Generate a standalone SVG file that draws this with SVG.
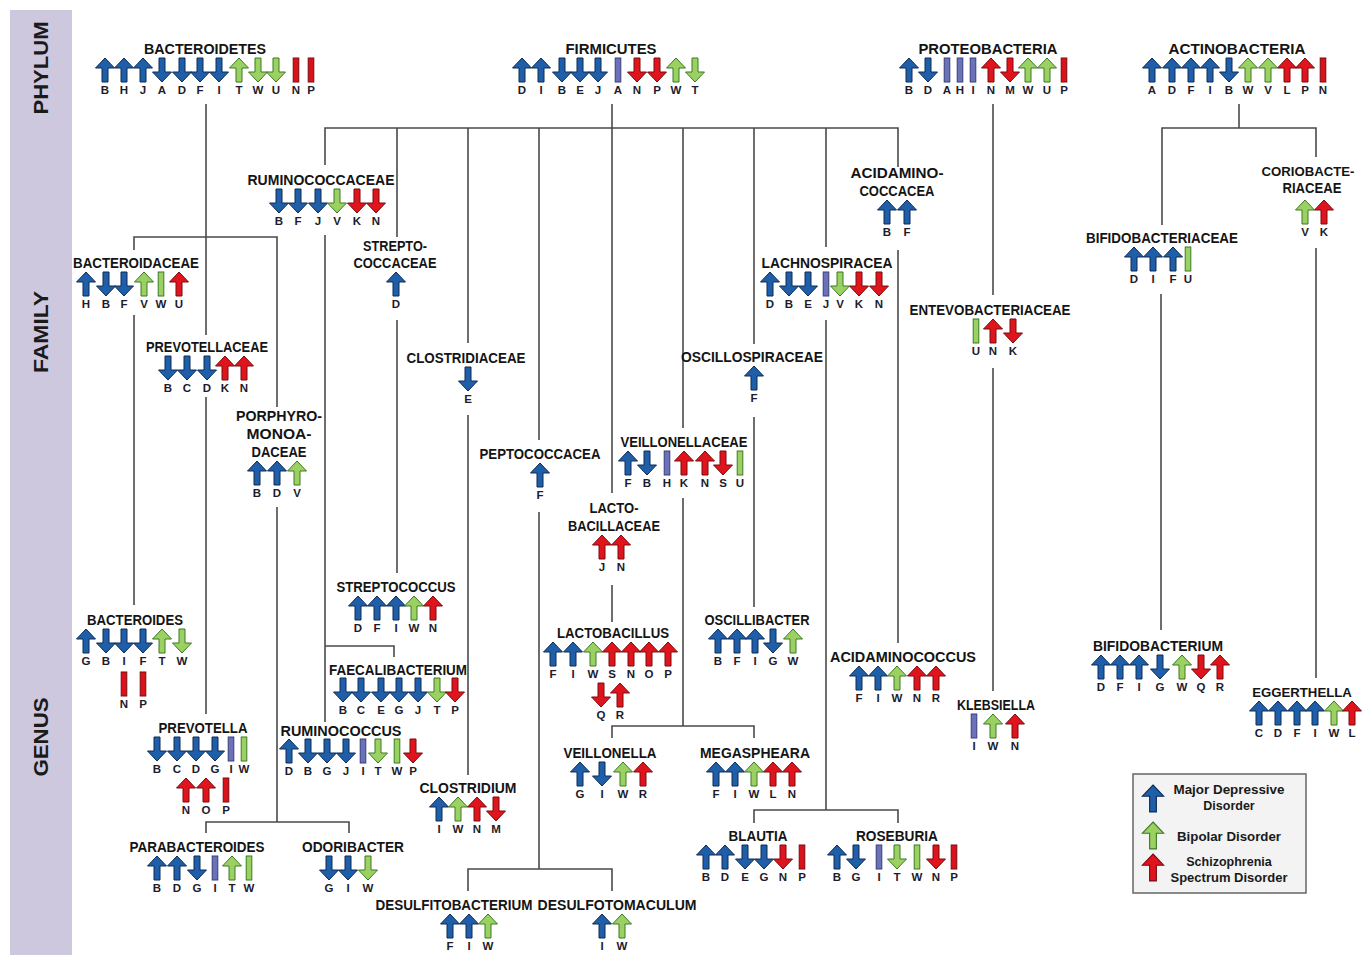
<svg xmlns="http://www.w3.org/2000/svg" width="1363" height="955" viewBox="0 0 1363 955">
<style>
.t{font-family:"Liberation Sans",Arial,sans-serif;font-weight:bold;font-size:14.5px;fill:#141414;text-anchor:middle}
.ts{font-size:13.2px}
.l{font-family:"Liberation Sans",Arial,sans-serif;font-weight:bold;font-size:11.5px;fill:#1c1c2c;text-anchor:middle}
.side{font-family:"Liberation Sans",Arial,sans-serif;font-weight:bold;font-size:21px;fill:#1a1a1a;text-anchor:middle}
.lg{font-family:"Liberation Sans",Arial,sans-serif;font-weight:bold;font-size:12.5px;fill:#1a1a1a;text-anchor:middle}
.cb{fill:#1f5ea8;stroke:#0d2b55;stroke-width:1}
.cg{fill:#9bd163;stroke:#3a7a22;stroke-width:1}
.cr{fill:#e0141c;stroke:#7a0a0e;stroke-width:1}
.pb{fill:#6b72b8;stroke:#363c7c;stroke-width:1}
.gb{fill:#9bd163;stroke:#3a7a22;stroke-width:1}
.rb{fill:#d8131b;stroke:#7a0a0e;stroke-width:1}
#connectors path{fill:none;stroke:#4a4a4a;stroke-width:1.6}
</style>
<defs>
<path id="u" d="M0,0 L9.5,10 L3,10 L3,24 L-3,24 L-3,10 L-9.5,10 Z"/>
<path id="d" d="M0,24 L9.5,14 L3,14 L3,0 L-3,0 L-3,14 L-9.5,14 Z"/>
<rect id="r" x="-2.8" y="0" width="5.6" height="24"/>
</defs>
<rect width="1363" height="955" fill="#ffffff"/>
<g id="sidebar">
<rect x="10" y="10" width="62" height="945" fill="#cec8df"/>
<text class="side" transform="translate(47.5,68) rotate(-90)" textLength="93" lengthAdjust="spacingAndGlyphs">PHYLUM</text>
<text class="side" transform="translate(47.5,332) rotate(-90)" textLength="82" lengthAdjust="spacingAndGlyphs">FAMILY</text>
<text class="side" transform="translate(47.5,737) rotate(-90)" textLength="79" lengthAdjust="spacingAndGlyphs">GENUS</text>
</g>
<g id="connectors">
<path d="M206,104 V335"/>
<path d="M134,250 V237 H277 V407"/>
<path d="M134,315 V605"/>
<path d="M206,397 V714"/>
<path d="M277,507 V822"/>
<path d="M206,833 V822 H349 V833"/>
<path d="M612,104 V493"/>
<path d="M325,165 V128 H898 V167"/>
<path d="M397,128 V237"/>
<path d="M468,128 V343"/>
<path d="M539,128 V440"/>
<path d="M683,128 V428"/>
<path d="M754,128 V344"/>
<path d="M826,128 V247"/>
<path d="M325,235 V722"/>
<path d="M325,646 H394 V657"/>
<path d="M397,320 V573"/>
<path d="M468,415 V775"/>
<path d="M539,512 V869"/>
<path d="M468,891 V869 H612 V891"/>
<path d="M683,498 V726"/>
<path d="M612,738 V726 H754 V738"/>
<path d="M612,585 V622"/>
<path d="M754,417 V607"/>
<path d="M826,320 V810"/>
<path d="M754,823 V810 H898 V823"/>
<path d="M898,250 V643"/>
<path d="M993,104 V295"/>
<path d="M993,368 V691"/>
<path d="M1239,104 V128"/>
<path d="M1162,225 V128 H1316 V157"/>
<path d="M1161,294 V630"/>
<path d="M1316,248 V678"/>
</g>
<g id="n-bacteroidetes"><text class="t" x="205" y="54" textLength="122" lengthAdjust="spacingAndGlyphs">BACTEROIDETES</text>
<g transform="translate(0,58)"><use href="#u" class="cb" x="105"/><use href="#u" class="cb" x="124"/><use href="#u" class="cb" x="143"/><use href="#d" class="cb" x="162"/><use href="#d" class="cb" x="182"/><use href="#d" class="cb" x="200"/><use href="#d" class="cb" x="219"/><use href="#u" class="cg" x="239"/><use href="#d" class="cg" x="258"/><use href="#d" class="cg" x="276"/><use href="#r" class="rb" x="296"/><use href="#r" class="rb" x="311"/>
<text class="l" x="105 124 143 162 182 200 219 239 258 276 296 311" y="36">BHJADFITWUNP</text></g></g>
<g id="n-firmicutes"><text class="t" x="611" y="54" textLength="91" lengthAdjust="spacingAndGlyphs">FIRMICUTES</text>
<g transform="translate(0,58)"><use href="#u" class="cb" x="522"/><use href="#u" class="cb" x="541"/><use href="#d" class="cb" x="562"/><use href="#d" class="cb" x="580"/><use href="#d" class="cb" x="598"/><use href="#r" class="pb" x="618"/><use href="#d" class="cr" x="637"/><use href="#d" class="cr" x="657"/><use href="#u" class="cg" x="676"/><use href="#d" class="cg" x="695"/>
<text class="l" x="522 541 562 580 598 618 637 657 676 695" y="36">DIBEJANPWT</text></g></g>
<g id="n-proteobacteria"><text class="t" x="988" y="54" textLength="139" lengthAdjust="spacingAndGlyphs">PROTEOBACTERIA</text>
<g transform="translate(0,58)"><use href="#u" class="cb" x="909"/><use href="#d" class="cb" x="928"/><use href="#r" class="pb" x="947"/><use href="#r" class="pb" x="960"/><use href="#r" class="pb" x="973"/><use href="#u" class="cr" x="991"/><use href="#d" class="cr" x="1010"/><use href="#u" class="cg" x="1028"/><use href="#u" class="cg" x="1047"/><use href="#r" class="rb" x="1064"/>
<text class="l" x="909 928 947 960 973 991 1010 1028 1047 1064" y="36">BDAHINMWUP</text></g></g>
<g id="n-actinobacteria"><text class="t" x="1237" y="54" textLength="137" lengthAdjust="spacingAndGlyphs">ACTINOBACTERIA</text>
<g transform="translate(0,58)"><use href="#u" class="cb" x="1152"/><use href="#u" class="cb" x="1172"/><use href="#u" class="cb" x="1191"/><use href="#u" class="cb" x="1210"/><use href="#d" class="cb" x="1229"/><use href="#u" class="cg" x="1248"/><use href="#u" class="cg" x="1268"/><use href="#u" class="cr" x="1287"/><use href="#u" class="cr" x="1305"/><use href="#r" class="rb" x="1323"/>
<text class="l" x="1152 1172 1191 1210 1229 1248 1268 1287 1305 1323" y="36">ADFIBWVLPN</text></g></g>
<g id="n-ruminococcaceae"><text class="t" x="321" y="185" textLength="147" lengthAdjust="spacingAndGlyphs">RUMINOCOCCACEAE</text>
<g transform="translate(0,189)"><use href="#d" class="cb" x="279"/><use href="#d" class="cb" x="298"/><use href="#d" class="cb" x="318"/><use href="#d" class="cg" x="337"/><use href="#d" class="cr" x="357"/><use href="#d" class="cr" x="376"/>
<text class="l" x="279 298 318 337 357 376" y="36">BFJVKN</text></g></g>
<g id="n-streptococcaceae"><text class="t" x="395" y="251" textLength="64" lengthAdjust="spacingAndGlyphs">STREPTO-</text><text class="t" x="395" y="268" textLength="83" lengthAdjust="spacingAndGlyphs">COCCACEAE</text>
<g transform="translate(0,272)"><use href="#u" class="cb" x="396"/><text class="l" x="396" y="36">D</text></g></g>
<g id="n-bacteroidaceae"><text class="t" x="136" y="268" textLength="126" lengthAdjust="spacingAndGlyphs">BACTEROIDACEAE</text>
<g transform="translate(0,272)"><use href="#u" class="cb" x="86"/><use href="#d" class="cb" x="106"/><use href="#d" class="cb" x="124"/><use href="#u" class="cg" x="144"/><use href="#r" class="gb" x="161"/><use href="#u" class="cr" x="179"/>
<text class="l" x="86 106 124 144 161 179" y="36">HBFVWU</text></g></g>
<g id="n-acidaminococcacea"><text class="t" x="897" y="178" textLength="93" lengthAdjust="spacingAndGlyphs">ACIDAMINO-</text><text class="t" x="897" y="196" textLength="75" lengthAdjust="spacingAndGlyphs">COCCACEA</text>
<g transform="translate(0,200)"><use href="#u" class="cb" x="887"/><use href="#u" class="cb" x="907"/><text class="l" x="887 907" y="36">BF</text></g></g>
<g id="n-coriobacteriaceae"><text class="t ts" x="1308" y="176">CORIOBACTE-</text><text class="t" x="1312" y="193" textLength="59" lengthAdjust="spacingAndGlyphs">RIACEAE</text>
<g transform="translate(0,200)"><use href="#u" class="cg" x="1305"/><use href="#u" class="cr" x="1324"/><text class="l" x="1305 1324" y="36">VK</text></g></g>
<g id="n-bifidobacteriaceae"><text class="t" x="1162" y="243" textLength="152" lengthAdjust="spacingAndGlyphs">BIFIDOBACTERIACEAE</text>
<g transform="translate(0,247)"><use href="#u" class="cb" x="1134"/><use href="#u" class="cb" x="1153"/><use href="#u" class="cb" x="1173"/><use href="#r" class="gb" x="1188"/>
<text class="l" x="1134 1153 1173 1188" y="36">DIFU</text></g></g>
<g id="n-lachnospiracea"><text class="t" x="827" y="268" textLength="131" lengthAdjust="spacingAndGlyphs">LACHNOSPIRACEA</text>
<g transform="translate(0,272)"><use href="#u" class="cb" x="770"/><use href="#d" class="cb" x="789"/><use href="#d" class="cb" x="808"/><use href="#r" class="pb" x="826"/><use href="#d" class="cg" x="840"/><use href="#d" class="cr" x="859"/><use href="#d" class="cr" x="879"/>
<text class="l" x="770 789 808 826 840 859 879" y="36">DBEJVKN</text></g></g>
<g id="n-entevobacteriaceae"><text class="t" x="990" y="315" textLength="161" lengthAdjust="spacingAndGlyphs">ENTEVOBACTERIACEAE</text>
<g transform="translate(0,319)"><use href="#r" class="gb" x="976"/><use href="#u" class="cr" x="993"/><use href="#d" class="cr" x="1013"/>
<text class="l" x="976 993 1013" y="36">UNK</text></g></g>
<g id="n-prevotellaceae"><text class="t" x="207" y="352" textLength="122" lengthAdjust="spacingAndGlyphs">PREVOTELLACEAE</text>
<g transform="translate(0,356)"><use href="#d" class="cb" x="168"/><use href="#d" class="cb" x="187"/><use href="#d" class="cb" x="207"/><use href="#u" class="cr" x="225"/><use href="#u" class="cr" x="244"/>
<text class="l" x="168 187 207 225 244" y="36">BCDKN</text></g></g>
<g id="n-clostridiaceae"><text class="t" x="466" y="363" textLength="119" lengthAdjust="spacingAndGlyphs">CLOSTRIDIACEAE</text>
<g transform="translate(0,367)"><use href="#d" class="cb" x="468"/><text class="l" x="468" y="36">E</text></g></g>
<g id="n-oscillospiraceae"><text class="t" x="752" y="362" textLength="142" lengthAdjust="spacingAndGlyphs">OSCILLOSPIRACEAE</text>
<g transform="translate(0,366)"><use href="#u" class="cb" x="754"/><text class="l" x="754" y="36">F</text></g></g>
<g id="n-porphyromonoadaceae"><text class="t" x="279" y="421" textLength="86" lengthAdjust="spacingAndGlyphs">PORPHYRO-</text><text class="t" x="279" y="439" textLength="65" lengthAdjust="spacingAndGlyphs">MONOA-</text><text class="t" x="279" y="457" textLength="55" lengthAdjust="spacingAndGlyphs">DACEAE</text>
<g transform="translate(0,461)"><use href="#u" class="cb" x="257"/><use href="#u" class="cb" x="277"/><use href="#u" class="cg" x="297"/>
<text class="l" x="257 277 297" y="36">BDV</text></g></g>
<g id="n-veillonellaceae"><text class="t" x="684" y="447" textLength="127" lengthAdjust="spacingAndGlyphs">VEILLONELLACEAE</text>
<g transform="translate(0,451)"><use href="#u" class="cb" x="628"/><use href="#d" class="cb" x="647"/><use href="#r" class="pb" x="667"/><use href="#u" class="cr" x="684"/><use href="#u" class="cr" x="705"/><use href="#d" class="cr" x="723"/><use href="#r" class="gb" x="740"/>
<text class="l" x="628 647 667 684 705 723 740" y="36">FBHKNSU</text></g></g>
<g id="n-peptococcacea"><text class="t" x="540" y="459" textLength="121" lengthAdjust="spacingAndGlyphs">PEPTOCOCCACEA</text>
<g transform="translate(0,463)"><use href="#u" class="cb" x="540"/><text class="l" x="540" y="36">F</text></g></g>
<g id="n-lactobacillaceae"><text class="t" x="614" y="513" textLength="49" lengthAdjust="spacingAndGlyphs">LACTO-</text><text class="t" x="614" y="531" textLength="92" lengthAdjust="spacingAndGlyphs">BACILLACEAE</text>
<g transform="translate(0,535)"><use href="#u" class="cr" x="602"/><use href="#u" class="cr" x="621"/><text class="l" x="602 621" y="36">JN</text></g></g>
<g id="n-streptococcus"><text class="t" x="396" y="592" textLength="119" lengthAdjust="spacingAndGlyphs">STREPTOCOCCUS</text>
<g transform="translate(0,596)"><use href="#u" class="cb" x="358"/><use href="#u" class="cb" x="377"/><use href="#u" class="cb" x="396"/><use href="#u" class="cg" x="414"/><use href="#u" class="cr" x="433"/>
<text class="l" x="358 377 396 414 433" y="36">DFIWN</text></g></g>
<g id="n-bacteroides"><text class="t" x="135" y="625" textLength="96" lengthAdjust="spacingAndGlyphs">BACTEROIDES</text>
<g transform="translate(0,629)"><use href="#u" class="cb" x="86"/><use href="#d" class="cb" x="106"/><use href="#d" class="cb" x="124"/><use href="#d" class="cb" x="143"/><use href="#u" class="cg" x="162"/><use href="#d" class="cg" x="182"/>
<text class="l" x="86 106 124 143 162 182" y="36">GBIFTW</text></g>
<g transform="translate(0,672)"><use href="#r" class="rb" x="124"/><use href="#r" class="rb" x="143"/><text class="l" x="124 143" y="36">NP</text></g></g>
<g id="n-oscillibacter"><text class="t" x="757" y="625" textLength="105" lengthAdjust="spacingAndGlyphs">OSCILLIBACTER</text>
<g transform="translate(0,629)"><use href="#u" class="cb" x="718"/><use href="#u" class="cb" x="737"/><use href="#u" class="cb" x="755"/><use href="#d" class="cb" x="773"/><use href="#u" class="cg" x="793"/>
<text class="l" x="718 737 755 773 793" y="36">BFIGW</text></g></g>
<g id="n-lactobacillus"><text class="t" x="613" y="638" textLength="112" lengthAdjust="spacingAndGlyphs">LACTOBACILLUS</text>
<g transform="translate(0,642)"><use href="#u" class="cb" x="553"/><use href="#u" class="cb" x="573"/><use href="#u" class="cg" x="593"/><use href="#u" class="cr" x="612"/><use href="#u" class="cr" x="631"/><use href="#u" class="cr" x="649"/><use href="#u" class="cr" x="668"/>
<text class="l" x="553 573 593 612 631 649 668" y="36">FIWSNOP</text></g>
<g transform="translate(0,683)"><use href="#d" class="cr" x="601"/><use href="#u" class="cr" x="620"/><text class="l" x="601 620" y="36">QR</text></g></g>
<g id="n-bifidobacterium"><text class="t" x="1158" y="651" textLength="130" lengthAdjust="spacingAndGlyphs">BIFIDOBACTERIUM</text>
<g transform="translate(0,655)"><use href="#u" class="cb" x="1101"/><use href="#u" class="cb" x="1120"/><use href="#u" class="cb" x="1139"/><use href="#d" class="cb" x="1160"/><use href="#u" class="cg" x="1182"/><use href="#d" class="cr" x="1201"/><use href="#u" class="cr" x="1220"/>
<text class="l" x="1101 1120 1139 1160 1182 1201 1220" y="36">DFIGWQR</text></g></g>
<g id="n-acidaminococcus"><text class="t" x="903" y="662" textLength="146" lengthAdjust="spacingAndGlyphs">ACIDAMINOCOCCUS</text>
<g transform="translate(0,666)"><use href="#u" class="cb" x="859"/><use href="#u" class="cb" x="878"/><use href="#u" class="cg" x="897"/><use href="#u" class="cr" x="917"/><use href="#u" class="cr" x="936"/>
<text class="l" x="859 878 897 917 936" y="36">FIWNR</text></g></g>
<g id="n-faecalibacterium"><text class="t" x="398" y="675" textLength="138" lengthAdjust="spacingAndGlyphs">FAECALIBACTERIUM</text>
<g transform="translate(0,678)"><use href="#d" class="cb" x="343"/><use href="#d" class="cb" x="361"/><use href="#d" class="cb" x="381"/><use href="#d" class="cb" x="399"/><use href="#d" class="cb" x="418"/><use href="#d" class="cg" x="437"/><use href="#d" class="cr" x="455"/>
<text class="l" x="343 361 381 399 418 437 455" y="36">BCEGJTP</text></g></g>
<g id="n-eggerthella"><text class="t ts" x="1302" y="697">EGGERTHELLA</text>
<g transform="translate(0,701)"><use href="#u" class="cb" x="1259"/><use href="#u" class="cb" x="1278"/><use href="#u" class="cb" x="1297"/><use href="#u" class="cb" x="1315"/><use href="#u" class="cg" x="1334"/><use href="#u" class="cr" x="1352"/>
<text class="l" x="1259 1278 1297 1315 1334 1352" y="36">CDFIWL</text></g></g>
<g id="n-klebsiella"><text class="t" x="996" y="710" textLength="78" lengthAdjust="spacingAndGlyphs">KLEBSIELLA</text>
<g transform="translate(0,714)"><use href="#r" class="pb" x="974"/><use href="#u" class="cg" x="993"/><use href="#u" class="cr" x="1015"/>
<text class="l" x="974 993 1015" y="36">IWN</text></g></g>
<g id="n-prevotella"><text class="t" x="203" y="733" textLength="89" lengthAdjust="spacingAndGlyphs">PREVOTELLA</text>
<g transform="translate(0,737)"><use href="#d" class="cb" x="157"/><use href="#d" class="cb" x="177"/><use href="#d" class="cb" x="196"/><use href="#d" class="cb" x="215"/><use href="#r" class="pb" x="231"/><use href="#r" class="gb" x="244"/>
<text class="l" x="157 177 196 215 231 244" y="36">BCDGIW</text></g>
<g transform="translate(0,778)"><use href="#u" class="cr" x="186"/><use href="#u" class="cr" x="206"/><use href="#r" class="rb" x="226"/><text class="l" x="186 206 226" y="36">NOP</text></g></g>
<g id="n-ruminococcus"><text class="t" x="341" y="736" textLength="121" lengthAdjust="spacingAndGlyphs">RUMINOCOCCUS</text>
<g transform="translate(0,739)"><use href="#u" class="cb" x="289"/><use href="#d" class="cb" x="308"/><use href="#d" class="cb" x="327"/><use href="#d" class="cb" x="346"/><use href="#r" class="pb" x="363"/><use href="#d" class="cg" x="378"/><use href="#r" class="gb" x="397"/><use href="#d" class="cr" x="413"/>
<text class="l" x="289 308 327 346 363 378 397 413" y="36">DBGJITWP</text></g></g>
<g id="n-veillonella"><text class="t" x="610" y="758" textLength="93" lengthAdjust="spacingAndGlyphs">VEILLONELLA</text>
<g transform="translate(0,762)"><use href="#u" class="cb" x="580"/><use href="#d" class="cb" x="602"/><use href="#u" class="cg" x="623"/><use href="#u" class="cr" x="643"/>
<text class="l" x="580 602 623 643" y="36">GIWR</text></g></g>
<g id="n-megasphaera"><text class="t" x="755" y="758" textLength="110" lengthAdjust="spacingAndGlyphs">MEGASPHEARA</text>
<g transform="translate(0,762)"><use href="#u" class="cb" x="716"/><use href="#u" class="cb" x="735"/><use href="#u" class="cg" x="754"/><use href="#u" class="cr" x="773"/><use href="#u" class="cr" x="792"/>
<text class="l" x="716 735 754 773 792" y="36">FIWLN</text></g></g>
<g id="n-clostridium"><text class="t" x="468" y="793" textLength="97" lengthAdjust="spacingAndGlyphs">CLOSTRIDIUM</text>
<g transform="translate(0,797)"><use href="#u" class="cb" x="439"/><use href="#u" class="cg" x="458"/><use href="#u" class="cr" x="477"/><use href="#d" class="cr" x="496"/>
<text class="l" x="439 458 477 496" y="36">IWNM</text></g></g>
<g id="n-blautia"><text class="t" x="758" y="841" textLength="59" lengthAdjust="spacingAndGlyphs">BLAUTIA</text>
<g transform="translate(0,845)"><use href="#u" class="cb" x="706"/><use href="#u" class="cb" x="725"/><use href="#d" class="cb" x="745"/><use href="#d" class="cb" x="764"/><use href="#d" class="cr" x="783"/><use href="#r" class="rb" x="802"/>
<text class="l" x="706 725 745 764 783 802" y="36">BDEGNP</text></g></g>
<g id="n-roseburia"><text class="t" x="897" y="841" textLength="82" lengthAdjust="spacingAndGlyphs">ROSEBURIA</text>
<g transform="translate(0,845)"><use href="#u" class="cb" x="837"/><use href="#d" class="cb" x="856"/><use href="#r" class="pb" x="879"/><use href="#d" class="cg" x="897"/><use href="#r" class="gb" x="917"/><use href="#d" class="cr" x="936"/><use href="#r" class="rb" x="954"/>
<text class="l" x="837 856 879 897 917 936 954" y="36">BGITWNP</text></g></g>
<g id="n-parabacteroides"><text class="t" x="197" y="852" textLength="135" lengthAdjust="spacingAndGlyphs">PARABACTEROIDES</text>
<g transform="translate(0,856)"><use href="#u" class="cb" x="157"/><use href="#u" class="cb" x="177"/><use href="#d" class="cb" x="197"/><use href="#r" class="pb" x="215"/><use href="#u" class="cg" x="232"/><use href="#r" class="gb" x="249"/>
<text class="l" x="157 177 197 215 232 249" y="36">BDGITW</text></g></g>
<g id="n-odoribacter"><text class="t" x="353" y="852" textLength="102" lengthAdjust="spacingAndGlyphs">ODORIBACTER</text>
<g transform="translate(0,856)"><use href="#d" class="cb" x="329"/><use href="#d" class="cb" x="348"/><use href="#d" class="cg" x="368"/>
<text class="l" x="329 348 368" y="36">GIW</text></g></g>
<g id="n-desulfitobacterium"><text class="t" x="454" y="910" textLength="157" lengthAdjust="spacingAndGlyphs">DESULFITOBACTERIUM</text>
<g transform="translate(0,914)"><use href="#u" class="cb" x="450"/><use href="#u" class="cb" x="469"/><use href="#u" class="cg" x="488"/>
<text class="l" x="450 469 488" y="36">FIW</text></g></g>
<g id="n-desulfotomaculum"><text class="t" x="617" y="910" textLength="159" lengthAdjust="spacingAndGlyphs">DESULFOTOMACULUM</text>
<g transform="translate(0,914)"><use href="#u" class="cb" x="602"/><use href="#u" class="cg" x="622"/>
<text class="l" x="602 622" y="36">IW</text></g></g>
<g id="legend">
<rect x="1133" y="774" width="173" height="119" fill="#f3f3f3" stroke="#666" stroke-width="1.5"/>
<use href="#u" class="cb" transform="translate(1153,785) scale(1.12)"/>
<text class="lg" x="1229" y="794" textLength="111" lengthAdjust="spacingAndGlyphs">Major Depressive</text>
<text class="lg" x="1229" y="810">Disorder</text>
<use href="#u" class="cg" transform="translate(1153,822) scale(1.12)"/>
<text class="lg" x="1229" y="841" textLength="104" lengthAdjust="spacingAndGlyphs">Bipolar Disorder</text>
<use href="#u" class="cr" transform="translate(1153,854) scale(1.12)"/>
<text class="lg" x="1229" y="866">Schizophrenia</text>
<text class="lg" x="1229" y="882" textLength="117" lengthAdjust="spacingAndGlyphs">Spectrum Disorder</text>
</g>
</svg>
